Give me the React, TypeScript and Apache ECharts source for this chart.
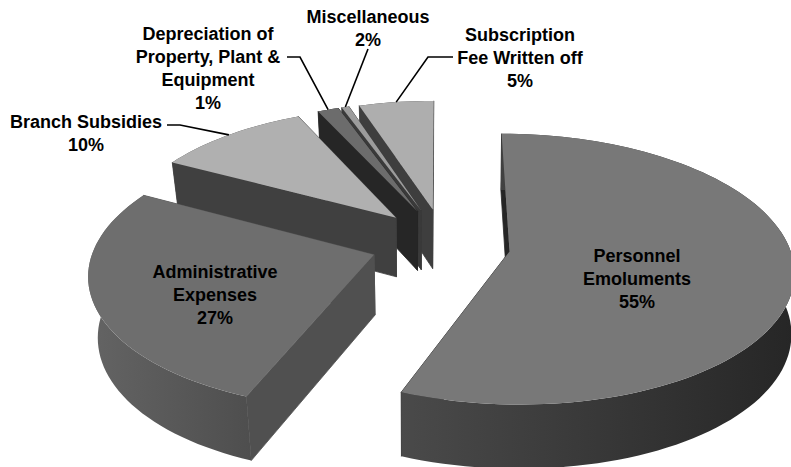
import React, { useEffect, useRef } from "react";
import * as echarts from "echarts";

// Clockwise from 12 o'clock
const categories = [
  "Personnel\nEmoluments",
  "Administrative\nExpenses",
  "Branch Subsidies",
  "Depreciation of\nProperty, Plant &\nEquipment",
  "Miscellaneous",
  "Subscription\nFee Written off",
];
const percentLabels = ["55%", "27%", "10%", "1%", "2%", "5%"];
// Share of the ring each slice visibly occupies in the picture
const sliceShares = [56.0, 26.8, 10.3, 1.4, 0.5, 5.0];
const paintOrder = [5, 4, 3, 2, 0, 1];

const topFills = ["#787878", "#6e6e6e", "#b0b0b0", "#6c6c6c", "#9c9c9c", "#aeaeae"];
const cutFills = ["#262626", "#505050", "#404040", "#262626", "#3a3a3a", "#3e3e3e"];
const rimFills: [string, string][] = [
  ["#4a4a4a", "#262626"],
  ["#646464", "#4e4e4e"],
  ["#404040", "#404040"],
  ["#262626", "#262626"],
  ["#3a3a3a", "#3a3a3a"],
  ["#3e3e3e", "#3e3e3e"],
];

const labelCentres = [
  [637, 279],
  [215, 295],
  [86, 133],
  [208, 68],
  [368, 28],
  [520, 58],
];
const leaderElbows: (number[][] | null)[] = [
  null,
  null,
  [[167, 125], [180, 125]],
  [[287, 57], [300, 57]],
  [[368, 49]],
  [[453, 57], [428, 57]],
];

const CX = 441;
const CY = 243.5;
const RX = 279;
const RY = 131;
const PERSP_X = 0.13;
const PERSP_Y = 0.13;
const EXPLODE_U = 0.25;
const EXPLODE_V = 0.27;
const EXPLODE_TURN = (2 * Math.PI) / 180;
const DEPTH = 60;
const DEPTH_GROW = 4;
const VANISH_X = 410;
const SHRINK_LEFT = 0.03;
const SHRINK_RIGHT = 0.008;

const total = sliceShares.reduce((a, b) => a + b, 0);
const startAngles: number[] = [];
sliceShares.reduce((acc, s, i) => {
  startAngles[i] = (acc / total) * Math.PI * 2;
  return acc + s;
}, 0);

const project = (u: number, v: number) => [
  CX + (RX * u) / (1 - PERSP_X * v),
  CY + (RY * v) / (1 - PERSP_Y * v),
];
const discPoint = (a: number) => [Math.sin(a), -Math.cos(a)];

const renderItem = (_params: any, api: any) => {
  const i = api.value(1);
  const a0 = startAngles[i];
  const a1 = a0 + (api.value(0) / total) * Math.PI * 2;
  const mid = (a0 + a1) / 2;
  const [mu, mv] = discPoint(mid + EXPLODE_TURN);
  const ou = mu * EXPLODE_U;
  const ov = mv * EXPLODE_V;

  const top = (u: number, v: number) => project(ou + u, ov + v);
  const bottom = (u: number, v: number) => {
    const [x, y] = top(u, v);
    const shrink = x < VANISH_X ? SHRINK_LEFT : SHRINK_RIGHT;
    return [x + (VANISH_X - x) * shrink, y + DEPTH + DEPTH_GROW * (ov + v)];
  };

  const steps = Math.max(4, Math.ceil(((a1 - a0) / Math.PI) * 90));
  const rimDisc: number[][] = [];
  for (let s = 0; s <= steps; s++) rimDisc.push(discPoint(a0 + ((a1 - a0) * s) / steps));

  const topRim = rimDisc.map(([u, v]) => top(u, v));
  const bottomRim = rimDisc.map(([u, v]) => bottom(u, v));
  const apexTop = top(0, 0);
  const apexBottom = bottom(0, 0);
  const lastT = topRim[topRim.length - 1];
  const lastB = bottomRim[bottomRim.length - 1];

  const cutWall = (points: number[][]) => ({
    type: "polygon",
    shape: { points },
    style: { fill: cutFills[i], stroke: cutFills[i], lineWidth: 0.8 },
  });
  const polygon = (points: number[][], fill: any) => ({
    type: "polygon",
    shape: { points },
    style: { fill, stroke: "none" },
  });

  const children: any[] = [
    cutWall([apexTop, lastT, lastB, apexBottom]),
    cutWall([apexTop, topRim[0], bottomRim[0], apexBottom]),
    polygon(
      [...topRim, ...bottomRim.slice().reverse()],
      new echarts.graphic.LinearGradient(0, 0, 1, 0, [
        { offset: 0, color: rimFills[i][0] },
        { offset: 1, color: rimFills[i][1] },
      ]),
    ),
    polygon([apexTop, ...topRim], topFills[i]),
  ];

  const elbows = leaderElbows[i];
  if (elbows) {
    const [au, av] = discPoint(mid);
    children.push({
      type: "polyline",
      shape: { points: [...elbows, top(au, av)] },
      style: { stroke: "#000000", lineWidth: 1.6, fill: "none" },
    });
  }
  return { type: "group", children };
};

export default function App() {
  const ref = useRef<HTMLDivElement>(null);
  useEffect(() => {
    document.body.style.margin = "0";
    const chart = echarts.init(ref.current!, undefined, { renderer: "svg" });
    chart.setOption({
      animation: false,
      backgroundColor: "#ffffff",
      series: [
        {
          type: "custom",
          coordinateSystem: "none",
          silent: true,
          renderItem,
          data: paintOrder.map((i) => ({ name: categories[i], value: [sliceShares[i], i] })),
        },
      ],
      graphic: categories.map((c, i) => ({
        type: "text",
        z: 100,
        x: labelCentres[i][0],
        y: labelCentres[i][1],
        silent: true,
        style: {
          text: `${c}\n${percentLabels[i]}`,
          fill: "#000000",
          font: 'bold 18px "Liberation Sans", Arial, sans-serif',
          lineHeight: 23,
          textAlign: "center",
          textVerticalAlign: "middle",
        },
      })),
    });
    return () => chart.dispose();
  }, []);
  return <div ref={ref} style={{ width: 791, height: 467 }} />;
}
